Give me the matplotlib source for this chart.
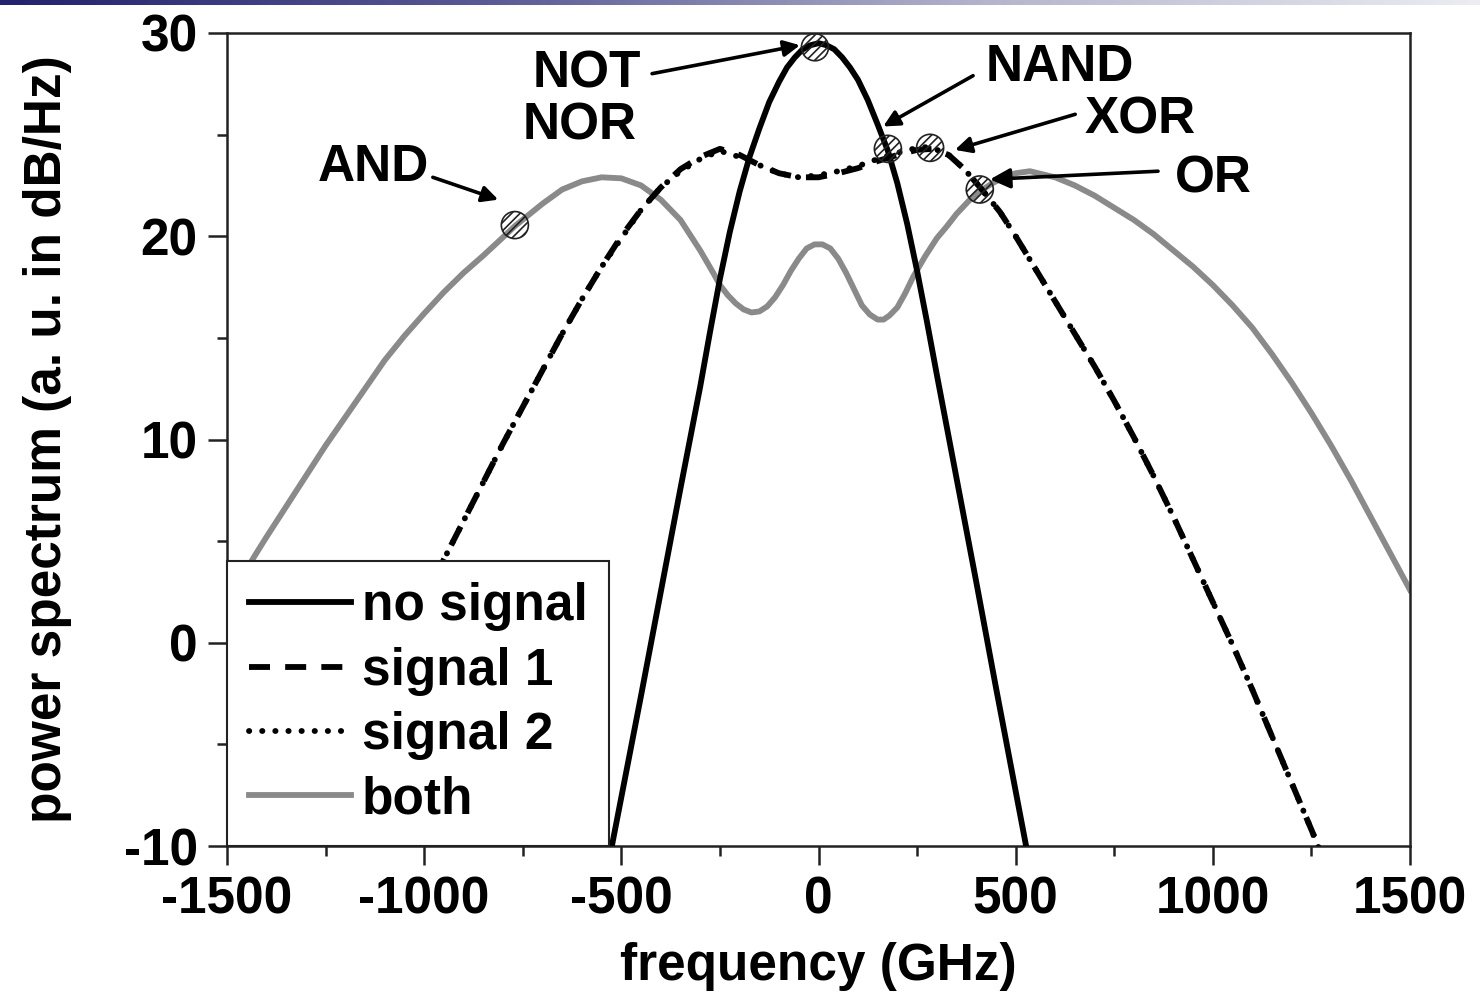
import numpy as np
import matplotlib
matplotlib.use("Agg")
import matplotlib.pyplot as plt
from matplotlib.colors import LinearSegmentedColormap

plt.rcParams["font.family"] = ["Liberation Sans", "DejaVu Sans"]
plt.rcParams["font.weight"] = "bold"
plt.rcParams["axes.unicode_minus"] = False
plt.rcParams["hatch.linewidth"] = 1.2

# ---- spectra (frequency in GHz, power in dB/Hz, arbitrary units) ----
f_nosig = [-545, -524, -500, -450, -400, -350, -300, -275, -250, -225, -200, -175,
           -150, -125, -100, -80, -60, -40, -20, 0, 20, 40, 60, 80, 100, 125, 150,
           176, 200, 225, 250, 275, 300, 350, 400, 450, 500, 524, 545]
p_nosig = [-12.1, -10.0, -7.6, -2.6, 2.5, 7.6, 12.6, 15.3, 17.9, 20.2, 22.2, 23.9,
           25.3, 26.6, 27.6, 28.3, 28.8, 29.2, 29.4, 29.5, 29.4, 29.2, 28.8, 28.3,
           27.7, 26.7, 25.5, 24.2, 22.6, 20.6, 18.3, 15.8, 13.2, 8.1, 3.0, -2.2,
           -7.3, -9.75, -11.9]

f_sig1 = [-1300, -1250, -1200, -1150, -1100, -1050, -1000, -950, -900, -850, -800,
          -750, -700, -650, -600, -550, -500, -450, -400, -350, -300, -250, -200,
          -150, -100, -50, 0, 50, 100, 150, 200, 250, 290, 330, 370, 410, 460, 500,
          550, 600, 650, 700, 750, 800, 850, 900, 950, 1000, 1050, 1100, 1150, 1200,
          1250, 1300]
p_sig1 = [-11.5, -9.2, -6.9, -4.6, -2.4, -0.2, 2.0, 4.1, 6.0, 7.9, 9.8,
          11.6, 13.4, 15.2, 16.9, 18.5, 20.0, 21.3, 22.4, 23.3, 23.9, 24.3, 24.0,
          23.5, 23.1, 22.9, 22.9, 23.1, 23.35, 23.7, 24.0, 24.25, 24.3, 24.0, 23.3,
          22.4, 21.2, 20.0, 18.4, 16.8, 15.2, 13.6, 11.9, 10.1, 8.2, 6.2, 4.1, 2.0,
          -0.1, -2.3, -4.6, -6.9, -9.2, -11.5]

f_sig2 = [-1300, -1250, -1200, -1150, -1100, -1050, -1000, -950, -900, -850, -800,
          -750, -700, -650, -600, -550, -500, -450, -400, -350, -300, -250, -200,
          -150, -100, -50, 0, 50, 100, 150, 200, 250, 283, 330, 370, 410, 460, 500,
          550, 600, 650, 700, 750, 800, 850, 900, 950, 1000, 1050, 1100, 1150, 1200,
          1250, 1300]
p_sig2 = [-11.6, -9.3, -6.9, -4.7, -2.4, -0.2, 1.9, 4.1, 6.0, 7.9, 9.8,
          11.6, 13.4, 15.2, 16.9, 18.5, 19.9, 21.3, 22.4, 23.2, 23.8, 24.2, 23.9,
          23.5, 23.1, 22.9, 23.0, 23.2, 23.45, 23.8, 24.1, 24.35, 24.4, 24.0, 23.3,
          22.4, 21.2, 20.0, 18.4, 16.8, 15.2, 13.6, 11.9, 10.1, 8.2, 6.2, 4.1, 2.0,
          -0.1, -2.3, -4.6, -6.9, -9.2, -11.6]

f_both = [-1500, -1429, -1400, -1350, -1300, -1250, -1200, -1150, -1100, -1050,
          -1000, -950, -900, -850, -800, -770, -700, -650, -600, -550, -500, -450,
          -400, -350, -300, -267, -250, -230, -210, -190, -170, -150, -130, -110,
          -90, -70, -50, -30, -10, 10, 30, 50, 70, 90, 110, 130, 150, 165, 180, 200,
          220, 240, 270, 300, 326, 350, 384, 409, 440, 470, 500, 536, 600, 650, 700,
          750, 800, 850, 900, 950, 1000, 1050, 1100, 1150, 1200, 1250, 1300, 1350,
          1400, 1450, 1500]
p_both = [2.0, 4.3, 5.2, 6.7, 8.2, 9.7, 11.1, 12.5, 13.9, 15.1,
          16.2, 17.25, 18.2, 19.05, 19.95, 20.5, 21.6, 22.3, 22.7, 22.9, 22.85, 22.5,
          21.8, 20.8, 19.3, 18.2, 17.6, 17.1, 16.7, 16.4, 16.25, 16.3, 16.55, 17.0,
          17.6, 18.3, 18.9, 19.4, 19.6, 19.6, 19.4, 18.9, 18.2, 17.4, 16.6, 16.15,
          15.9, 15.9, 16.1, 16.5, 17.2, 18.0, 19.0, 19.9, 20.5, 21.1, 21.8, 22.2,
          22.6, 22.9, 23.1, 23.2, 22.9, 22.5, 22.0, 21.4, 20.8, 20.1, 19.3, 18.5,
          17.6, 16.6, 15.5, 14.2, 12.8, 11.3, 9.7, 8.0, 6.2, 4.4, 2.6]

# ---- logic-gate operating points ----
gate_freq = [-9, 176, 283, 409, -770]
gate_power = [29.3, 24.3, 24.35, 22.3, 20.55]

x_ticks = [-1500, -1000, -500, 0, 500, 1000, 1500]
y_ticks = [-10, 0, 10, 20, 30]

FS = 37
BLACK = "#000000"
GRAY = "#8a8a8a"

fig = plt.figure(figsize=(14.8, 10.01), dpi=100)
ax = fig.add_axes([227 / 1480, 1 - 846 / 1001, (1410 - 227) / 1480, (846 - 33) / 1001])

lw = 4.2
ax.plot(f_nosig, p_nosig, color=BLACK, lw=lw, label="no signal",
        solid_joinstyle="round", zorder=3)
ax.plot(f_sig1, p_sig1, color=BLACK, lw=lw, ls=(0, (3.6, 2.6)), label="signal 1",
        dash_capstyle="butt", zorder=3)
ax.plot(f_sig2, p_sig2, color=BLACK, lw=lw, ls=(0, (0.05, 2.2)), label="signal 2",
        dash_capstyle="round", zorder=3)
ax.plot(f_both, p_both, color=GRAY, lw=lw, label="both",
        solid_joinstyle="round", zorder=2)

ax.scatter(gate_freq, gate_power, s=380, facecolor="none", edgecolor="#222222",
           linewidths=1.2, hatch="////", zorder=5)

# gate labels and arrows
labels = [("NOT", -587, 28.0), ("NOR", -605, 25.4), ("AND", -1130, 23.4),
          ("NAND", 612, 28.3), ("XOR", 815, 25.7), ("OR", 1000, 22.8)]
for txt, fx, py in labels:
    ax.text(fx, py, txt, fontsize=FS, fontweight="bold", ha="center", va="center", zorder=6)

arrows = [((-422, 28.0), (-47, 29.4), 24),
          ((392, 27.9), (164, 25.4), 24),
          ((651, 26.0), (346, 24.25), 24),
          ((861, 23.2), (435, 22.8), 30),
          ((-978, 22.9), (-812, 21.8), 24)]
for tail, tip, ms in arrows:
    ax.annotate("", xy=tip, xytext=tail,
                arrowprops=dict(arrowstyle="-|>", color=BLACK, lw=2.6,
                                mutation_scale=ms, shrinkA=0, shrinkB=0),
                zorder=6)

ax.set_xlim(-1500, 1500)
ax.set_ylim(-10, 30)
ax.set_xticks(x_ticks)
ax.set_yticks(y_ticks)
ax.set_xticks(np.arange(-1250, 1500, 500), minor=True)
ax.set_yticks(np.arange(-5, 30, 10), minor=True)
ax.tick_params(which="major", direction="out", length=14, width=1.8, pad=7,
               labelsize=FS, color="#222222")
ax.tick_params(which="minor", direction="out", length=7.5, width=1.8, color="#222222")
for lab in ax.get_xticklabels() + ax.get_yticklabels():
    lab.set_fontweight("bold")
for sp in ax.spines.values():
    sp.set_linewidth(1.8)
    sp.set_color("#222222")

ax.set_xlabel("frequency (GHz)", fontsize=FS, fontweight="bold")
ax.set_ylabel("power spectrum (a. u. in dB/Hz)", fontsize=FS, fontweight="bold")
ax.xaxis.set_label_coords(0.5, -0.118)
ax.yaxis.set_label_coords(-0.131, 0.5)

leg = ax.legend(loc="lower left", bbox_to_anchor=(0, 0), borderaxespad=0,
                fontsize=FS, frameon=True, fancybox=False, framealpha=1,
                handlelength=2.0, handletextpad=0.2, borderpad=0.42,
                labelspacing=0.3, prop={"weight": "bold", "size": FS})
leg.get_frame().set_edgecolor("#222222")
leg.get_frame().set_linewidth(1.5)
leg.set_zorder(7)

# header strip along the top edge
band = fig.add_axes([0, 1 - 5 / 1001, 1, 5 / 1001])
band_cmap = LinearSegmentedColormap.from_list(
    "band", ["#22226e", "#5a5a96", "#b4b4cc", "#ececf2"])
band.imshow(np.linspace(0, 1, 256)[None, :], aspect="auto", cmap=band_cmap)
band.set_axis_off()

fig.savefig("out.png", dpi=100)
